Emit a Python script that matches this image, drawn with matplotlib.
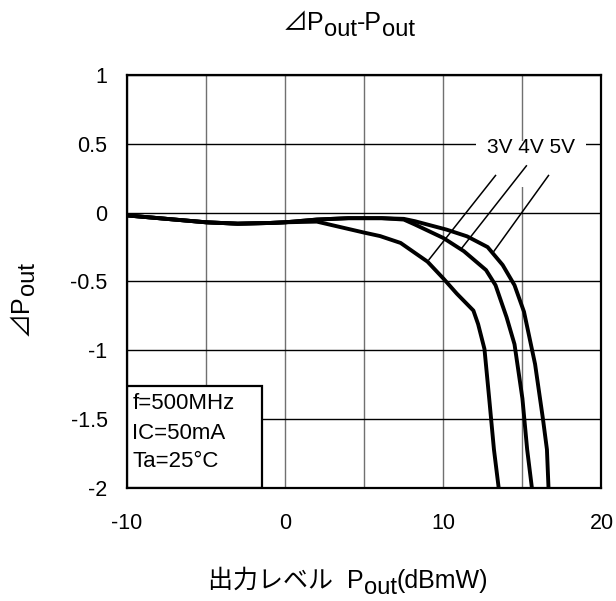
'''
Delta Pout vs Pout chart for 3V / 4V / 5V supply
'''
import matplotlib
matplotlib.use('Agg')
import matplotlib.pyplot as plt
from matplotlib.patches import Rectangle
from matplotlib.transforms import offset_copy

plt.rcParams['font.family'] = ['Liberation Sans', 'Noto Sans CJK JP', 'DejaVu Sans']
plt.rcParams['axes.unicode_minus'] = False

# Data
x_3v = [-10, -7.5, -5, -3, -1, 0, 2, 3.5, 5, 6.0, 7.3, 9, 10, 10.85, 11.9, 12.2, 12.6, 12.9, 13.2, 13.5]
y_3v = [-0.02, -0.045, -0.07, -0.08, -0.075, -0.07, -0.065, -0.105, -0.145, -0.17, -0.22, -0.356,
        -0.478, -0.588, -0.711, -0.81, -0.99, -1.35, -1.72, -2.0]

x_4v = [-10, -7.5, -5, -3, -1, 0, 2, 4, 6.1, 7.5, 8.2, 10, 11.3, 12.7, 13.3, 14.0, 14.5, 15.0, 15.3, 15.6]
y_4v = [-0.02, -0.045, -0.07, -0.08, -0.075, -0.07, -0.05, -0.04, -0.04, -0.05, -0.086, -0.184,
        -0.28, -0.417, -0.527, -0.76, -0.956, -1.35, -1.72, -2.0]

x_5v = [-10, -7.5, -5, -3, -1, 0, 2, 4, 6.1, 7.5, 8.2, 10.2, 11.5, 12.8, 13.75, 14.5, 15.1, 15.8, 16.3, 16.55, 16.65]
y_5v = [-0.02, -0.045, -0.07, -0.08, -0.075, -0.07, -0.05, -0.04, -0.04, -0.045, -0.062, -0.123,
        -0.172, -0.25, -0.38, -0.527, -0.72, -1.10, -1.5, -1.72, -2.0]

# leader lines: (label end, curve end)
leaders = {
    '3V': ([13.3, 9.1], [0.27, -0.34]),
    '4V': ([15.25, 11.15], [0.34, -0.26]),
    '5V': ([16.65, 13.2], [0.27, -0.28]),
}

x_ticks = [-10, 0, 10, 20]
y_ticks = [-2, -1.5, -1, -0.5, 0, 0.5, 1]
y_tick_labels = ['-2', '-1.5', '-1', '-0.5', '0', '0.5', '1']
conditions = ['f=500MHz', 'IC=50mA', 'Ta=25°C']


def rich_text(fig, x, y, pieces, size, rotation=0, sub_scale=0.95, drop_px=6):
    '''Draw text with subscripts piece by piece, centred on (x, y) in figure coords.'''
    renderer = fig.canvas.get_renderer()
    items = []
    total = 0
    for s, sub in pieces:
        fs = size * sub_scale if sub else size
        t = fig.text(x, y, s, fontsize=fs, rotation=rotation, ha='left',
                     va='baseline', rotation_mode='anchor')
        bb = t.get_window_extent(renderer)
        w = bb.height if rotation else bb.width
        items.append((t, w, sub))
        total += w
    pos = -total / 2
    for t, w, sub in items:
        d = drop_px if sub else 0
        if rotation:
            tr = offset_copy(fig.transFigure, fig=fig, x=d, y=pos, units='dots')
        else:
            tr = offset_copy(fig.transFigure, fig=fig, x=pos, y=-d, units='dots')
        t.set_transform(tr)
        pos += w


fig = plt.figure(figsize=(6.16, 6.01), dpi=100)
ax = fig.add_axes([127 / 616, 1 - 488 / 601, 474.5 / 616, 413 / 601])

for xs, ys in [(x_3v, y_3v), (x_4v, y_4v), (x_5v, y_5v)]:
    ax.plot(xs, ys, color='black', lw=2.8, zorder=4, solid_joinstyle='round')

for name, (lx, ly) in leaders.items():
    ax.plot(lx, ly, color='black', lw=1.1, zorder=3)

ax.set_xlim(-10, 20)
ax.set_ylim(-2, 1)
ax.set_xticks(x_ticks)
ax.set_xticks([-5, 5, 15], minor=True)
ax.set_yticks(y_ticks)
ax.set_yticklabels(y_tick_labels)
ax.tick_params(which='both', length=0, labelsize=15.5)
ax.tick_params(axis='x', pad=18)
ax.tick_params(axis='y', pad=14)

ax.grid(axis='x', which='both', color='#707070', lw=1.0)
ax.grid(axis='y', color='black', lw=1.0)
ax.set_axisbelow(True)
for sp in ax.spines.values():
    sp.set_linewidth(1.6)
    sp.set_zorder(5)

# white area behind the voltage labels
ax.add_patch(Rectangle((12.08, 0.187), 6.96, 0.333, facecolor='white', edgecolor='none', zorder=2))
ax.text(15.56, 0.433, '3V 4V 5V', fontsize=15, ha='center', va='baseline', zorder=3)

# condition box
ax.add_patch(Rectangle((-10, -2), 8.56, 0.741, facecolor='white', edgecolor='black', lw=1.6, zorder=3))
for s, yb in zip(conditions, [-1.426, -1.644, -1.85]):
    ax.text(-9.66, yb, s, fontsize=16, ha='left', va='baseline', zorder=4)

fig.canvas.draw()
rich_text(fig, 349 / 616, 1 - 30 / 601, [('⊿P', False), ('out', True), ('-P', False), ('out', True)], 18)
rich_text(fig, 348 / 616, 1 - 588 / 601, [('出力レベル  P', False), ('out', True), ('(dBmW)', False)], 18)
rich_text(fig, 28 / 616, 1 - 299 / 601, [('⊿P', False), ('out', True)], 18, rotation=90)

fig.savefig('out.png', dpi=100)
